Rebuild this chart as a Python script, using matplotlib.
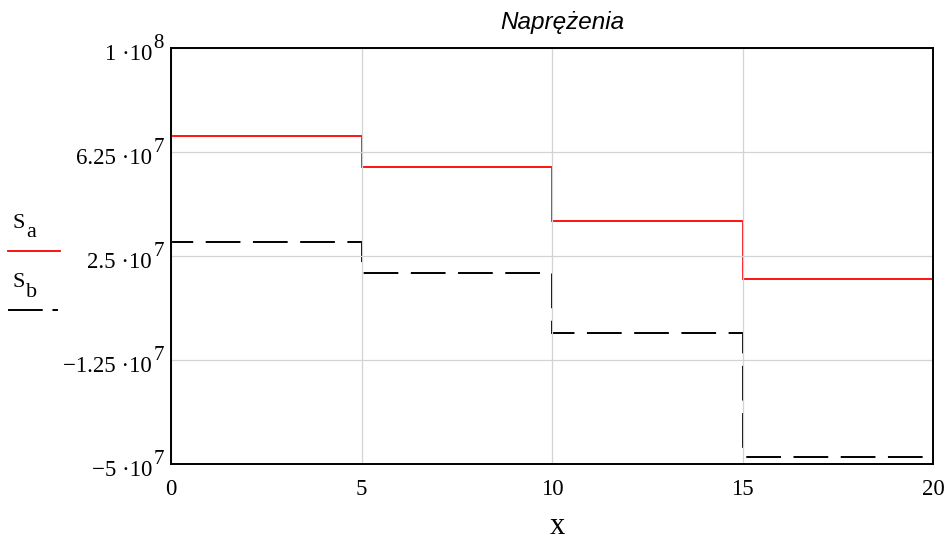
import numpy as np
import matplotlib as mpl
import matplotlib.pyplot as plt
from matplotlib.lines import Line2D

mpl.rcParams['font.family'] = 'Liberation Serif'
mpl.rcParams['lines.scale_dashes'] = False

# dane
x_edges = [0, 5, 10, 15, 20]
s_a = [6.83e7, 5.70e7, 3.77e7, 1.66e7]
s_b = [3.0e7, 1.875e7, -0.29e7, -4.74e7]

x_ticks = [0, 5, 10, 15, 20]
y_ticks = [-5e7, -1.25e7, 2.5e7, 6.25e7, 1e8]
y_mant = ['−5 ·10', '−1.25 ·10', '2.5 ·10', '6.25 ·10', '1 ·10']
y_exp = ['7', '7', '7', '7', '8']

fig = plt.figure(figsize=(9.5, 5.42), dpi=100)
ax = fig.add_axes([171/950, 78/542, 762/950, 416/542])

ax.stairs(s_a, x_edges, baseline=None, color='#ff0000', linewidth=1.3)
ax.stairs(s_b, x_edges, baseline=None, color='black', linewidth=1.4,
          linestyle=(9, (25, 9)))

ax.set_xlim(0, 20)
ax.set_ylim(-5e7, 1e8)
ax.set_xticks(x_ticks)
ax.set_xticklabels([str(v) for v in x_ticks])
ax.set_yticks(y_ticks)
ax.set_yticklabels([])
ax.tick_params(length=0, labelsize=16.5)
ax.tick_params(axis='x', pad=11)
ax.grid(color='#d3d3d3', linewidth=0.9)
for sp in ax.spines.values():
    sp.set_linewidth(1.4)

# etykiety osi y w stylu Mathcad (duzy wykladnik)
tr = ax.get_yaxis_transform()
for yv, m, e in zip(y_ticks, y_mant, y_exp):
    ax.annotate(m, xy=(0, yv), xycoords=tr, xytext=(-19, -12),
                textcoords='offset pixels', ha='right', va='baseline',
                fontsize=16.5, annotation_clip=False)
    ax.annotate(e, xy=(0, yv), xycoords=tr, xytext=(-7, 0),
                textcoords='offset pixels', ha='right', va='baseline',
                fontsize=15, annotation_clip=False)

fig.text(562/950, 1 - 22/542, 'Naprężenia', family='Liberation Sans',
         style='italic', fontsize=17.5, ha='center', va='center')
fig.text(557/950, 1 - 534/542, 'x', fontsize=22, ha='center', va='baseline')

# legenda (Mathcad)
fig.text(12/950, 1 - 228/542, 'S', fontsize=16, ha='left', va='baseline')
fig.text(26/950, 1 - 237/542, 'a', fontsize=16, ha='left', va='baseline')
fig.add_artist(Line2D([8/950, 60/950], [1 - 251/542, 1 - 251/542],
                      color='#ff0000', linewidth=1.3))
fig.text(12/950, 1 - 287/542, 'S', fontsize=16, ha='left', va='baseline')
fig.text(26/950, 1 - 297/542, 'b', fontsize=16, ha='left', va='baseline')
fig.add_artist(Line2D([8/950, 58/950], [1 - 310/542, 1 - 310/542],
                      color='black', linewidth=1.4, linestyle=(0, (25, 7))))

plt.savefig('out.png')
